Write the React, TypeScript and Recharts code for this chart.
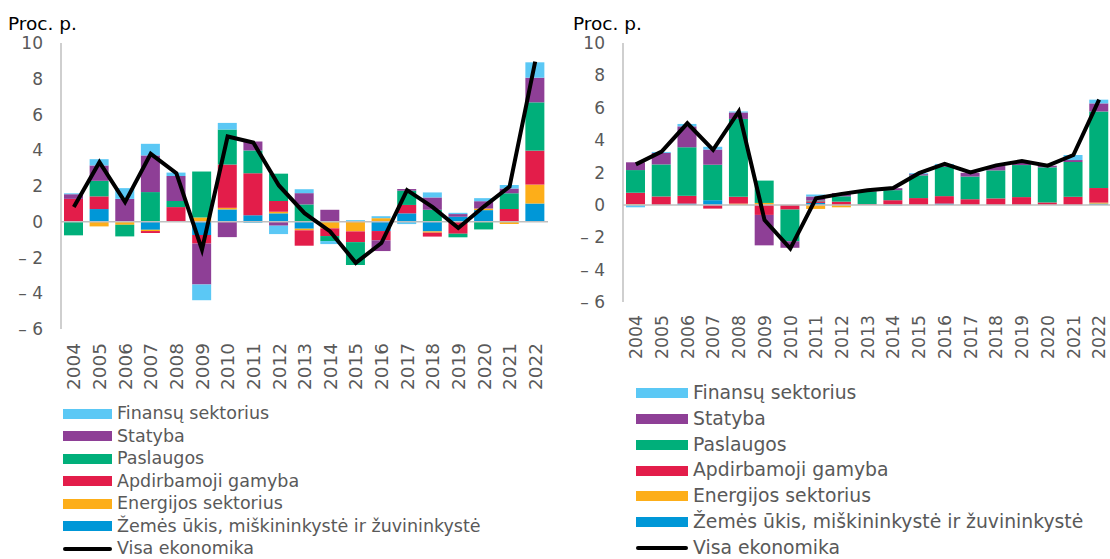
import React from "react";
import {
  ComposedChart,
  Bar,
  Line,
  XAxis,
  YAxis,
  ReferenceLine,
  Legend,
} from "recharts";

const years = [
  "2004", "2005", "2006", "2007", "2008", "2009", "2010", "2011", "2012", "2013",
  "2014", "2015", "2016", "2017", "2018", "2019", "2020", "2021", "2022",
];

const yTicks = [-6, -4, -2, 0, 2, 4, 6, 8, 10];

// left panel
const leftAgri = [0, 0.71, 0, -0.45, 0, -0.74, 0.69, 0.37, 0.47, -0.39, 0, 0, -0.52, 0.47, -0.54, 0.28, 0.65, 0, 1.02];
const leftEnergy = [0, -0.26, -0.17, -0.07, 0, 0.24, 0.09, 0, 0.09, -0.09, -0.37, -0.54, 0.2, 0, -0.07, 0, 0.09, -0.13, 1.06];
const leftManuf = [1.28, 0.71, 0, -0.11, 0.82, -0.48, 2.42, 2.35, 0.6, -0.86, -0.43, -0.6, -0.52, 0.47, -0.22, -0.67, 0, 0.71, 1.9];
const leftServices = [-0.76, 0.87, -0.65, 1.66, 0.34, 2.57, 1.96, 1.27, 1.53, 0.97, -0.28, -1.28, 0, 0.8, 0.67, -0.2, -0.43, 0.89, 2.7];
const leftConstr = [0.26, 0.86, 1.28, 2.05, 1.4, -2.29, -0.86, 0.5, -0.22, 0.63, 0.67, 0, -0.6, 0.09, 0.69, 0.15, 0.41, 0.26, 1.38];
const leftFin = [0.05, 0.35, 0.6, 0.65, 0.19, -0.88, 0.37, -0.07, -0.47, 0.22, -0.17, 0.09, 0.11, -0.13, 0.28, 0.07, 0.17, 0.2, 0.86];
const leftTotal = [0.82, 3.33, 1.1, 3.8, 2.72, -1.56, 4.77, 4.43, 2.03, 0.48, -0.54, -2.3, -1.19, 1.77, 0.82, -0.35, 0.85, 1.97, 8.96];

// right panel
const rightAgri = [0, 0, 0.08, 0.29, 0, 0, 0, 0.12, 0, 0, 0, 0, 0.08, 0, 0, 0, 0, 0, 0.08];
const rightEnergy = [0.05, 0, 0, 0, 0.08, 0.12, 0, -0.25, -0.15, 0, 0, 0, 0, 0, 0, 0, 0, 0, 0.06];
const rightManuf = [0.7, 0.52, 0.48, -0.23, 0.42, -0.62, -0.29, 0.1, 0.2, 0.05, 0.29, 0.42, 0.46, 0.35, 0.4, 0.48, 0.15, 0.5, 0.9];
const rightServices = [1.4, 1.98, 3.0, 2.19, 4.81, 1.38, -1.96, 0.05, 0.33, 0.78, 0.62, 1.4, 1.81, 1.4, 1.73, 1.98, 2.17, 2.15, 4.73];
const rightConstr = [0.48, 0.71, 1.29, 0.94, 0.4, -1.88, -0.4, 0.25, 0.2, 0.05, 0.12, 0.08, 0.1, 0.23, 0.27, 0.25, 0.1, 0.12, 0.5];
const rightFin = [-0.15, 0.06, 0.15, 0.17, 0.06, 0, 0, 0.12, 0, 0, -0.05, 0.06, 0.08, 0, 0, 0, 0, 0.31, 0.23];
const rightTotal = [2.5, 3.29, 5.04, 3.4, 5.77, -0.94, -2.7, 0.4, 0.68, 0.9, 1.04, 1.96, 2.54, 2.0, 2.44, 2.71, 2.42, 3.08, 6.5];

const series = [
  { key: "agri", name: "Žemės ūkis, miškininkystė ir žuvininkystė", color: "#0097D7" },
  { key: "energy", name: "Energijos sektorius", color: "#FDAE19" },
  { key: "manuf", name: "Apdirbamoji gamyba", color: "#E31D4A" },
  { key: "services", name: "Paslaugos", color: "#00AF7A" },
  { key: "constr", name: "Statyba", color: "#8E3F96" },
  { key: "fin", name: "Finansų sektorius", color: "#5BC8F5" },
];

const FONT = "'DejaVu Sans', Verdana, sans-serif";
const GREY = "#595959";

const build = (cols: number[][], total: number[]) =>
  years.map((year, i) => ({
    year,
    agri: cols[0][i],
    energy: cols[1][i],
    manuf: cols[2][i],
    services: cols[3][i],
    constr: cols[4][i],
    fin: cols[5][i],
    total: total[i],
  }));

const leftData = build([leftAgri, leftEnergy, leftManuf, leftServices, leftConstr, leftFin], leftTotal);
const rightData = build([rightAgri, rightEnergy, rightManuf, rightServices, rightConstr, rightFin], rightTotal);

const fmtY = (v: number) => (v < 0 ? `– ${Math.abs(v)}` : `${v}`);

function YearTick(props: any) {
  const { x, y, payload, gap, fontSize } = props;
  return (
    <g transform={`translate(${x},${y})`}>
      <text
        transform="rotate(-90)"
        x={-gap}
        dy="0.36em"
        textAnchor="end"
        fill={GREY}
        fontSize={fontSize}
        fontFamily={FONT}
      >
        {payload.value}
      </text>
    </g>
  );
}

function LegendList({ rowH, swatchW, fontSize }: { rowH: number; swatchW: number; fontSize: number }) {
  const items = [...series].reverse();
  return (
    <div style={{ fontFamily: FONT, fontSize, color: GREY, lineHeight: 1.1 }}>
      {items.map((s) => (
        <div key={s.key} style={{ height: rowH, display: "flex", alignItems: "center" }}>
          <span style={{ width: swatchW, height: 10, background: s.color, marginRight: 5, flex: "none" }} />
          <span style={{ whiteSpace: "nowrap" }}>{s.name}</span>
        </div>
      ))}
      <div style={{ height: rowH, display: "flex", alignItems: "center" }}>
        <svg width={swatchW} height={8} style={{ marginRight: 5, flex: "none" }}>
          <line x1={2} y1={4} x2={swatchW - 2} y2={4} stroke="#000" strokeWidth={4} strokeLinecap="round" />
        </svg>
        <span style={{ whiteSpace: "nowrap" }}>Visa ekonomika</span>
      </div>
    </div>
  );
}

interface PanelProps {
  data: any[];
  width: number;
  marginRight: number;
  yAxisW: number;
  xAxisH: number;
  xFont: number;
  xGap: number;
  rowH: number;
  swatchW: number;
  legendFont: number;
  legendLeft: number;
  legendBottom: number;
}

function Panel(p: PanelProps) {
  const legendH = p.rowH * 7;
  return (
    <ComposedChart
      width={p.width}
      height={559}
      data={p.data}
      stackOffset="sign"
      margin={{ top: 43, right: p.marginRight, left: 0, bottom: 0 }}
    >
      <XAxis
        dataKey="year"
        interval={0}
        axisLine={false}
        tickLine={false}
        tickSize={0}
        tickMargin={0}
        height={p.xAxisH}
        tick={<YearTick gap={p.xGap} fontSize={p.xFont} />}
      />
      <YAxis
        domain={[-6, 10]}
        ticks={yTicks}
        interval={0}
        width={p.yAxisW}
        tickSize={0}
        tickMargin={18}
        tickLine={false}
        axisLine={{ stroke: "#BFBFBF", strokeWidth: 1.5 }}
        tickFormatter={fmtY}
        tick={{ fill: GREY, fontSize: 17, fontFamily: FONT }}
      />
      {series.map((s) => (
        <Bar
          key={s.key}
          dataKey={s.key}
          name={s.name}
          stackId="a"
          fill={s.color}
          barSize={19}
          isAnimationActive={false}
        />
      ))}
      <ReferenceLine y={0} stroke="#BFBFBF" strokeWidth={1.5} />
      <Line
        type="linear"
        dataKey="total"
        name="Visa ekonomika"
        stroke="#000"
        strokeWidth={4}
        dot={false}
        activeDot={false}
        isAnimationActive={false}
      />
      <Legend
        layout="horizontal"
        verticalAlign="bottom"
        align="left"
        wrapperStyle={{ left: p.legendLeft, bottom: p.legendBottom, height: legendH, width: 520 }}
        content={() => <LegendList rowH={p.rowH} swatchW={p.swatchW} fontSize={p.legendFont} />}
      />
    </ComposedChart>
  );
}

const titleStyle: React.CSSProperties = {
  position: "absolute",
  top: 14,
  fontFamily: FONT,
  fontSize: 18.5,
  lineHeight: "20px",
  color: "#000",
  whiteSpace: "nowrap",
};

export default function App() {
  return (
    <div
      style={{
        position: "absolute",
        left: 0,
        top: 0,
        width: 1110,
        height: 559,
        overflow: "hidden",
        background: "#fff",
      }}
    >
      <div style={{ position: "absolute", left: 0, top: 0 }}>
        <Panel
          data={leftData}
          width={552}
          marginRight={4}
          yAxisW={61}
          xAxisH={72.5}
          xFont={18.5}
          xGap={14}
          rowH={22.5}
          swatchW={49}
          legendFont={17.5}
          legendLeft={63}
          legendBottom={-1}
        />
        <div style={{ ...titleStyle, left: 8 }}>Proc. p.</div>
      </div>
      <div style={{ position: "absolute", left: 570, top: 0 }}>
        <Panel
          data={rightData}
          width={545}
          marginRight={3}
          yAxisW={53}
          xAxisH={76.4}
          xFont={17.3}
          xGap={13}
          rowH={25.8}
          swatchW={52}
          legendFont={18.8}
          legendLeft={66}
          legendBottom={-2}
        />
        <div style={{ ...titleStyle, left: 3 }}>Proc. p.</div>
      </div>
    </div>
  );
}
